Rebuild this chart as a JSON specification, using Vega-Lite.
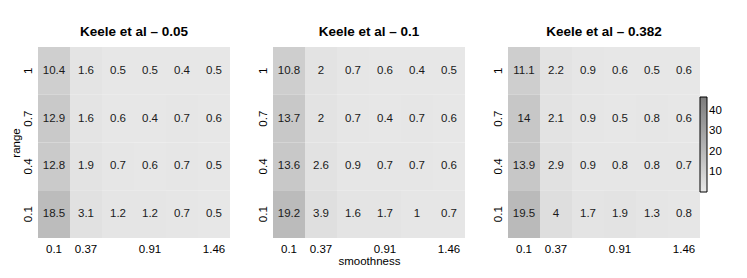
{
  "$schema": "https://vega.github.io/schema/vega-lite/v6.json",
  "padding": {"left": 10, "top": 24, "right": 0, "bottom": 0},
  "background": "white",
  "datasets": {
    "a": [
      {"s": "0.1", "r": "1", "v": 10.4}, {"s": "0.37", "r": "1", "v": 1.6}, {"s": "0.64", "r": "1", "v": 0.5}, {"s": "0.91", "r": "1", "v": 0.5}, {"s": "1.18", "r": "1", "v": 0.4}, {"s": "1.46", "r": "1", "v": 0.5},
      {"s": "0.1", "r": "0.7", "v": 12.9}, {"s": "0.37", "r": "0.7", "v": 1.6}, {"s": "0.64", "r": "0.7", "v": 0.6}, {"s": "0.91", "r": "0.7", "v": 0.4}, {"s": "1.18", "r": "0.7", "v": 0.7}, {"s": "1.46", "r": "0.7", "v": 0.6},
      {"s": "0.1", "r": "0.4", "v": 12.8}, {"s": "0.37", "r": "0.4", "v": 1.9}, {"s": "0.64", "r": "0.4", "v": 0.7}, {"s": "0.91", "r": "0.4", "v": 0.6}, {"s": "1.18", "r": "0.4", "v": 0.7}, {"s": "1.46", "r": "0.4", "v": 0.5},
      {"s": "0.1", "r": "0.1", "v": 18.5}, {"s": "0.37", "r": "0.1", "v": 3.1}, {"s": "0.64", "r": "0.1", "v": 1.2}, {"s": "0.91", "r": "0.1", "v": 1.2}, {"s": "1.18", "r": "0.1", "v": 0.7}, {"s": "1.46", "r": "0.1", "v": 0.5}
    ],
    "b": [
      {"s": "0.1", "r": "1", "v": 10.8}, {"s": "0.37", "r": "1", "v": 2}, {"s": "0.64", "r": "1", "v": 0.7}, {"s": "0.91", "r": "1", "v": 0.6}, {"s": "1.18", "r": "1", "v": 0.4}, {"s": "1.46", "r": "1", "v": 0.5},
      {"s": "0.1", "r": "0.7", "v": 13.7}, {"s": "0.37", "r": "0.7", "v": 2}, {"s": "0.64", "r": "0.7", "v": 0.7}, {"s": "0.91", "r": "0.7", "v": 0.4}, {"s": "1.18", "r": "0.7", "v": 0.7}, {"s": "1.46", "r": "0.7", "v": 0.6},
      {"s": "0.1", "r": "0.4", "v": 13.6}, {"s": "0.37", "r": "0.4", "v": 2.6}, {"s": "0.64", "r": "0.4", "v": 0.9}, {"s": "0.91", "r": "0.4", "v": 0.7}, {"s": "1.18", "r": "0.4", "v": 0.7}, {"s": "1.46", "r": "0.4", "v": 0.6},
      {"s": "0.1", "r": "0.1", "v": 19.2}, {"s": "0.37", "r": "0.1", "v": 3.9}, {"s": "0.64", "r": "0.1", "v": 1.6}, {"s": "0.91", "r": "0.1", "v": 1.7}, {"s": "1.18", "r": "0.1", "v": 1}, {"s": "1.46", "r": "0.1", "v": 0.7}
    ],
    "c": [
      {"s": "0.1", "r": "1", "v": 11.1}, {"s": "0.37", "r": "1", "v": 2.2}, {"s": "0.64", "r": "1", "v": 0.9}, {"s": "0.91", "r": "1", "v": 0.6}, {"s": "1.18", "r": "1", "v": 0.5}, {"s": "1.46", "r": "1", "v": 0.6},
      {"s": "0.1", "r": "0.7", "v": 14}, {"s": "0.37", "r": "0.7", "v": 2.1}, {"s": "0.64", "r": "0.7", "v": 0.9}, {"s": "0.91", "r": "0.7", "v": 0.5}, {"s": "1.18", "r": "0.7", "v": 0.8}, {"s": "1.46", "r": "0.7", "v": 0.6},
      {"s": "0.1", "r": "0.4", "v": 13.9}, {"s": "0.37", "r": "0.4", "v": 2.9}, {"s": "0.64", "r": "0.4", "v": 0.9}, {"s": "0.91", "r": "0.4", "v": 0.8}, {"s": "1.18", "r": "0.4", "v": 0.8}, {"s": "1.46", "r": "0.4", "v": 0.7},
      {"s": "0.1", "r": "0.1", "v": 19.5}, {"s": "0.37", "r": "0.1", "v": 4}, {"s": "0.64", "r": "0.1", "v": 1.7}, {"s": "0.91", "r": "0.1", "v": 1.9}, {"s": "1.18", "r": "0.1", "v": 1.3}, {"s": "1.46", "r": "0.1", "v": 0.8}
    ]
  },
  "spacing": 27,
  "align": "none",
  "resolve": {"scale": {"color": "shared"}},
  "hconcat": [
    {
      "width": 192, "height": 191,
      "title": "Keele et al – 0.05",
      "data": {"name": "a"},
      "encoding": {
        "x": {"field": "s", "type": "ordinal", "sort": ["0.1", "0.37", "0.64", "0.91", "1.18", "1.46"], "scale": {"paddingInner": 0, "paddingOuter": 0}, "axis": {"title": null, "labelExpr": "datum.label == '0.64' || datum.label == '1.18' ? '' : datum.label"}},
        "y": {"field": "r", "type": "ordinal", "sort": ["1", "0.7", "0.4", "0.1"], "scale": {"paddingInner": 0, "paddingOuter": 0}, "axis": {"title": "range"}}
      },
      "layer": [
        {"mark": "rect", "encoding": {"color": {"field": "v", "type": "quantitative", "scale": {"domain": [0, 47], "range": ["#e8e8e8", "#7d7d7d"]}, "legend": {"values": [10, 20, 30, 40], "labelOverlap": false}}}},
        {"mark": {"type": "text", "fontSize": 11.5, "color": "#1a1a1a"}, "encoding": {"text": {"field": "v", "type": "nominal"}}}
      ]
    },
    {
      "width": 192, "height": 191,
      "title": "Keele et al – 0.1",
      "data": {"name": "b"},
      "encoding": {
        "x": {"field": "s", "type": "ordinal", "sort": ["0.1", "0.37", "0.64", "0.91", "1.18", "1.46"], "scale": {"paddingInner": 0, "paddingOuter": 0}, "axis": {"title": "smoothness", "labelExpr": "datum.label == '0.64' || datum.label == '1.18' ? '' : datum.label"}},
        "y": {"field": "r", "type": "ordinal", "sort": ["1", "0.7", "0.4", "0.1"], "scale": {"paddingInner": 0, "paddingOuter": 0}, "axis": {"title": null}}
      },
      "layer": [
        {"mark": "rect", "encoding": {"color": {"field": "v", "type": "quantitative", "scale": {"domain": [0, 47], "range": ["#e8e8e8", "#7d7d7d"]}, "legend": {"values": [10, 20, 30, 40], "labelOverlap": false}}}},
        {"mark": {"type": "text", "fontSize": 11.5, "color": "#1a1a1a"}, "encoding": {"text": {"field": "v", "type": "nominal"}}}
      ]
    },
    {
      "width": 192, "height": 191,
      "title": "Keele et al – 0.382",
      "data": {"name": "c"},
      "encoding": {
        "x": {"field": "s", "type": "ordinal", "sort": ["0.1", "0.37", "0.64", "0.91", "1.18", "1.46"], "scale": {"paddingInner": 0, "paddingOuter": 0}, "axis": {"title": null, "labelExpr": "datum.label == '0.64' || datum.label == '1.18' ? '' : datum.label"}},
        "y": {"field": "r", "type": "ordinal", "sort": ["1", "0.7", "0.4", "0.1"], "scale": {"paddingInner": 0, "paddingOuter": 0}, "axis": {"title": null}}
      },
      "layer": [
        {"mark": "rect", "encoding": {"color": {"field": "v", "type": "quantitative", "scale": {"domain": [0, 47], "range": ["#e8e8e8", "#7d7d7d"]}, "legend": {"values": [10, 20, 30, 40], "labelOverlap": false}}}},
        {"mark": {"type": "text", "fontSize": 11.5, "color": "#1a1a1a"}, "encoding": {"text": {"field": "v", "type": "nominal"}}}
      ]
    }
  ],
  "config": {
    "font": "Liberation Sans",
    "view": {"stroke": null},
    "axis": {"domain": false, "ticks": false, "grid": false, "labelFont": "Liberation Sans", "labelFontSize": 11.5, "labelColor": "#000000", "titleFont": "Liberation Sans", "titleFontSize": 11.5, "titleFontWeight": "normal", "titleColor": "#000000", "labelPadding": 5},
    "axisX": {"labelAngle": 0, "titlePadding": 1},
    "axisY": {"labelAngle": -90, "labelPadding": 5, "titlePadding": 1},
    "title": {"font": "Liberation Sans", "fontSize": 13.5, "fontWeight": "bold", "color": "#000000", "offset": 9},
    "legend": {"orient": "none", "legendX": 662, "legendY": 50, "title": null, "gradientLength": 95, "gradientThickness": 7, "gradientStrokeColor": "#000000", "gradientStrokeWidth": 1, "labelFontSize": 11.5, "labelFont": "Liberation Sans", "labelColor": "#000000", "labelOffset": 15, "labelOverlap": false}
  }
}
